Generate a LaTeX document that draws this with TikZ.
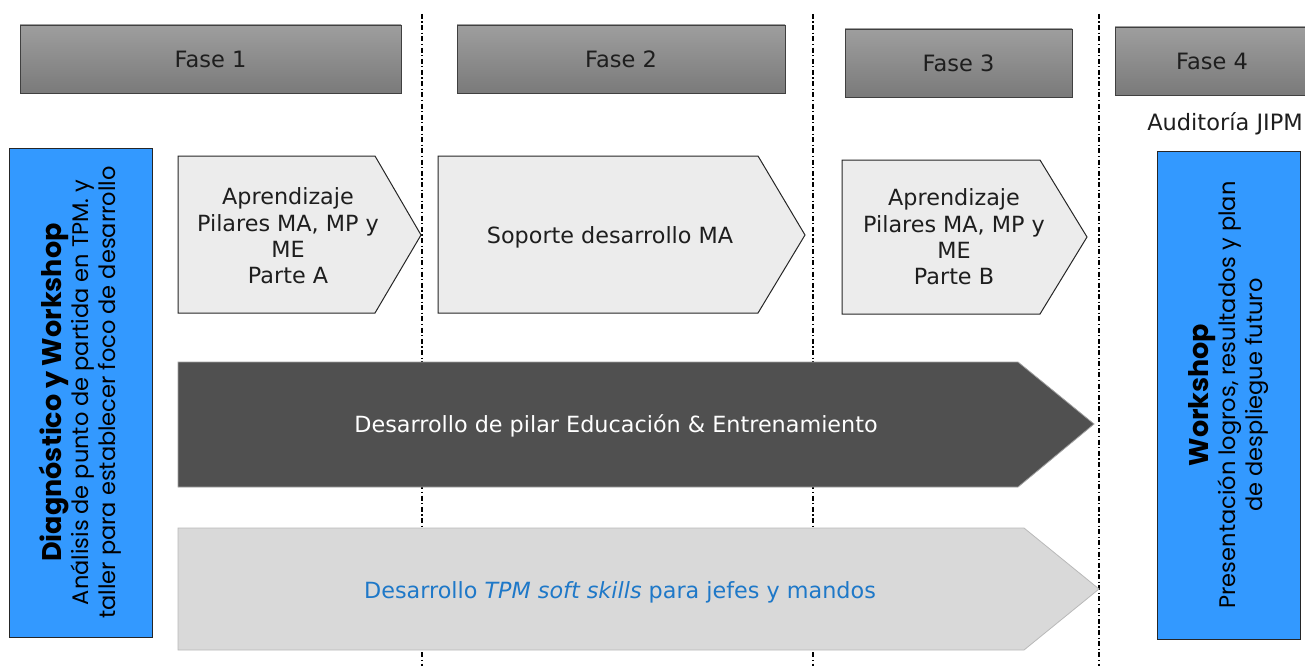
\documentclass[tikz,border=0pt]{standalone}
\usepackage{fontspec}
\setmainfont{DejaVu Sans}
\newfontfamily\boxfont{Poppins}
\definecolor{faseTop}{RGB}{158,158,158}
\definecolor{faseBot}{RGB}{122,122,122}
\definecolor{boxblue}{RGB}{51,153,255}
\definecolor{pentfill}{RGB}{236,236,236}
\definecolor{darkfill}{RGB}{80,80,80}
\definecolor{darkedge}{RGB}{160,160,160}
\definecolor{lightfill}{RGB}{217,217,217}
\definecolor{lightedge}{RGB}{185,185,185}
\definecolor{txtblue}{RGB}{30,120,200}
\definecolor{txtgray}{RGB}{30,30,30}
\begin{document}
\begin{tikzpicture}[x=1pt,y=-1pt,
  fase/.style={draw=black!75,line width=0.8pt,top color=faseTop,bottom color=faseBot,
    minimum height=68,inner sep=0pt,font=\fontsize{22.5}{26}\selectfont,text=txtgray},
  divider/.style={line width=1.1pt,dash pattern=on 5pt off 2.5pt on 1.2pt off 2.5pt},
  pent/.style={draw=black!85,line width=1pt,fill=pentfill},
  lbl/.style={align=center,font=\fontsize{22.3}{26.3}\selectfont,text=txtgray,inner sep=0pt},
  blue/.style={draw=black!85,line width=1pt,fill=boxblue,rotate=90,align=center,
    inner sep=0pt,font=\boxfont\fontsize{22.5}{27}\selectfont,text=black}]
\useasboundingbox (0,0) rectangle (1305,666);
% dividers
\coordinate (d1t) at (422,14); \coordinate (d1b) at (422,666);
\coordinate (d2t) at (813,14); \coordinate (d2b) at (813,666);
\coordinate (d3t) at (1099,14); \coordinate (d3b) at (1099,666);
\draw[divider] (d1t) -- (d1b);
\draw[divider] (d2t) -- (d2b);
\draw[divider] (d3t) -- (d3b);
% phase headers
\node[fase,minimum width=381] (f1) at (210.5,59) {Fase 1};
\node[fase,minimum width=328] (f2) at (621,59) {Fase 2};
\node[fase,minimum width=227] (f3) at (958.5,63) {Fase 3};
\node[fase,minimum width=194] (f4) at (1212,61) {Fase 4};
\node[lbl,font=\fontsize{22.5}{26}\selectfont] (aud) at (1225,124) {Auditoría JIPM};
% side blue boxes
\node[blue,minimum width=489,minimum height=143] (diag) at (80.5,392.5)
  {{\bfseries\fontsize{27}{27}\selectfont Diagnóstico y Workshop}\\
   Análisis de punto de partida en TPM. y\\
   taller para establecer foco de desarrollo};
\node[blue,minimum width=488,minimum height=143] (work) at (1228.5,395)
  {{\bfseries\fontsize{27}{27}\selectfont Workshop}\\
   Presentación logros, resultados y plan\\
   de despliegue futuro};
% pentagons
\draw[pent] (178,156) -- (375,156) -- (421,235) -- (375,313) -- (178,313) -- cycle;
\node[lbl] (pa) at (288,236) {Aprendizaje\\Pilares MA, MP y\\ME\\Parte A};
\draw[pent] (438,156) -- (758,156) -- (805,235) -- (758,313) -- (438,313) -- cycle;
\node[lbl] (sop) at (610,237) {Soporte desarrollo MA};
\draw[pent] (842,160) -- (1040,160) -- (1087,237) -- (1040,314) -- (842,314) -- cycle;
\node[lbl] (pb) at (954,237) {Aprendizaje\\Pilares MA, MP y\\ME\\Parte B};
% long arrows
\draw[fill=darkfill,draw=darkedge,line width=0.8pt] (178,362) -- (1018,362) -- (1094,424) -- (1018,487) -- (178,487) -- cycle;
\node[lbl,text=white] (edu) at (616,426) {Desarrollo de pilar Educación \& Entrenamiento};
\draw[fill=lightfill,draw=lightedge,line width=0.8pt] (178,528) -- (1024,528) -- (1099,589) -- (1024,650) -- (178,650) -- cycle;
\node[lbl,text=txtblue] (soft) at (620,592) {Desarrollo \textit{TPM soft skills} para jefes y mandos};
\end{tikzpicture}
\end{document}
